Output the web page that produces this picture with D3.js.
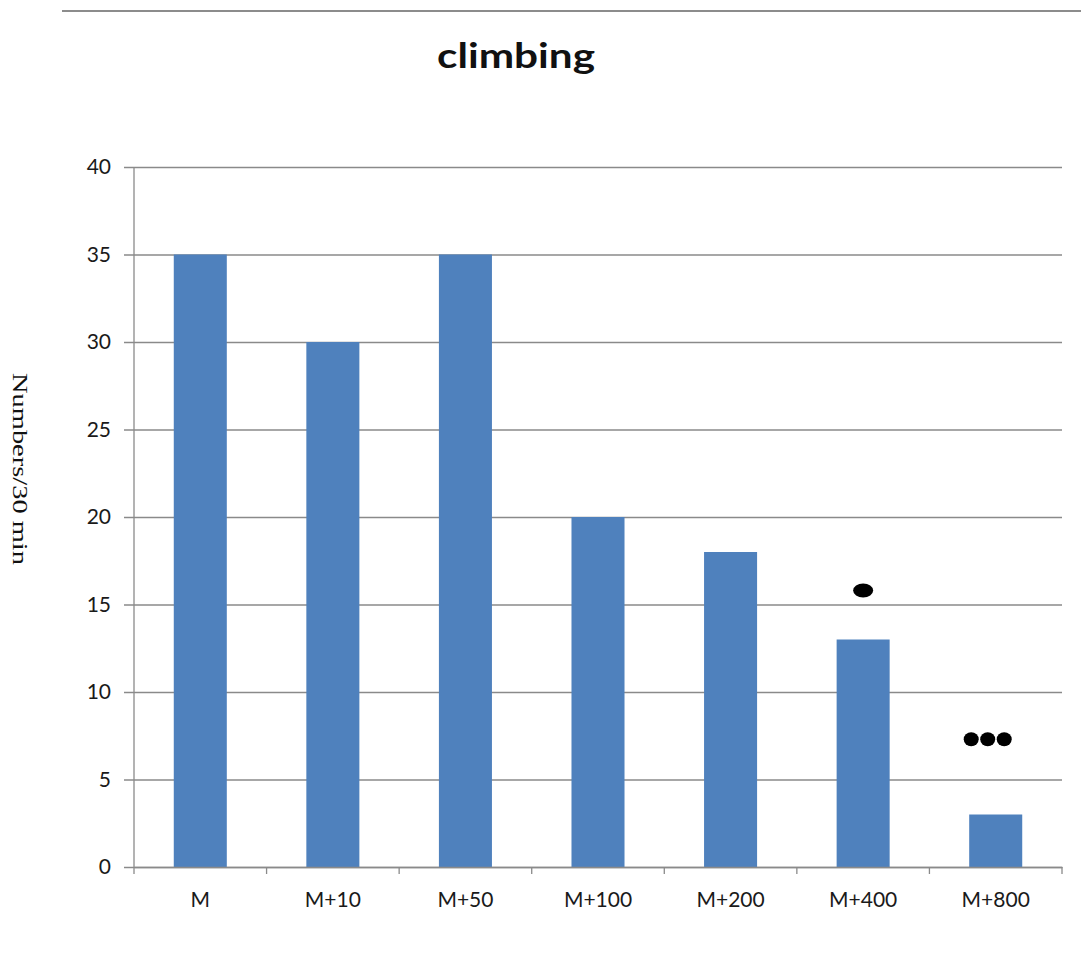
<!DOCTYPE html>
<html>
<head>
<meta charset="utf-8">
<script src="https://cdn.jsdelivr.net/npm/d3@7"></script>
<style>
  body { margin: 0; background: #fff; }
  svg { display: block; }
  .tick text { font-family: Lato, "Open Sans", sans-serif; font-size: 21px; fill: #1a1a1a; }
</style>
</head>
<body>
<svg id="chart" width="1081" height="953"></svg>
<script>
// --- Data ---------------------------------------
const categories = ["M", "M+10", "M+50", "M+100", "M+200", "M+400", "M+800"];
const counts = [35, 30, 35, 20, 18, 13, 3];
const yTicks = [0, 5, 10, 15, 20, 25, 30, 35, 40];

// significance marks: category, height (in data units), number of dots
const markCategories = ["M+400", "M+800"];
const markHeights = [15.8, 7.3];
const markDots = [1, 3];

// --- Layout ------------------
const margin = {top: 167, right: 19, bottom: 86, left: 134};
const svg = d3.select("#chart");
const W = +svg.attr("width"), H = +svg.attr("height");
const w = W - margin.left - margin.right;
const h = H - margin.top - margin.bottom;

const pOuter = 0.3;
const x = d3.scaleBand()
  .domain(categories)
  .range([0, w])
  .paddingInner(0.6)
  .paddingOuter(pOuter);

const y = d3.scaleLinear()
  .domain([0, 40])
  .range([h, 0]);

// rule at the very top
svg.append("line")
  .attr("x1", 62).attr("x2", W)
  .attr("y1", 11).attr("y2", 11)
  .attr("stroke", "#8c8c8c")
  .attr("stroke-width", 2);

// title (the picture is a bit stretched sideways, so fix the width)
svg.append("text")
  .attr("x", 437).attr("y", 68)
  .attr("textLength", 158)
  .attr("lengthAdjust", "spacingAndGlyphs")
  .style("font-family", "Lato, 'Open Sans', sans-serif")
  .style("font-weight", "bold")
  .style("font-size", "34px")
  .attr("fill", "#111")
  .text("climbing");

// y axis title (reads top to bottom)
svg.append("text")
  .attr("transform", "translate(13,373) rotate(90)")
  .attr("textLength", 192)
  .attr("lengthAdjust", "spacingAndGlyphs")
  .style("font-family", "'Liberation Serif', 'DejaVu Serif', serif")
  .style("font-size", "22px")
  .attr("fill", "#111")
  .text("Numbers/30 min");

const g = svg.append("g")
  .attr("transform", "translate(" + margin.left + "," + margin.top + ")");

// y axis + gridlines
const yAxis = g.append("g")
  .call(d3.axisLeft(y).tickValues(yTicks).tickSize(0).tickPadding(23));
yAxis.select(".domain").remove();
yAxis.selectAll(".tick line")
  .attr("x1", -10)
  .attr("x2", w)
  .attr("stroke", "#8a8a8a")
  .attr("stroke-width", 1.3);

// vertical axis line
g.append("line")
  .attr("x1", 0).attr("x2", 0)
  .attr("y1", 0).attr("y2", h)
  .attr("stroke", "#8a8a8a")
  .attr("stroke-width", 1.3);

// bars
g.selectAll("rect.bar")
  .data(categories.map((c, i) => ({cat: c, v: counts[i]})))
  .enter()
  .append("rect")
  .attr("class", "bar")
  .attr("x", d => x(d.cat))
  .attr("width", x.bandwidth())
  .attr("y", d => y(d.v))
  .attr("height", d => y(0) - y(d.v))
  .attr("fill", "#4f81bd");

// x axis: labels centred, ticks on category boundaries
const xAxis = g.append("g")
  .attr("transform", "translate(0," + h + ")")
  .call(d3.axisBottom(x).tickSize(0).tickPadding(25));
xAxis.select(".domain")
  .attr("stroke", "#8a8a8a")
  .attr("stroke-width", 1.3);

const bounds = categories.map(c => x(c) - x.step() * pOuter).concat([w]);
xAxis.selectAll("line.bound")
  .data(bounds)
  .enter()
  .append("line")
  .attr("class", "bound")
  .attr("x1", d => d).attr("x2", d => d)
  .attr("y1", 0).attr("y2", 7)
  .attr("stroke", "#8a8a8a")
  .attr("stroke-width", 1.3);

// significance dots (the triple mark sits a little left of the bar centre)
const marks = markCategories.map((c, i) => ({cat: c, v: markHeights[i], n: markDots[i]}));
marks.forEach(m => {
  const cx = x(m.cat) + x.bandwidth() / 2 - (m.n > 1 ? 8 : 0);
  const gap = 16.5;
  const rx = m.n === 1 ? 10 : 7.5;
  d3.range(m.n).forEach(k => {
    g.append("ellipse")
      .attr("cx", cx + (k - (m.n - 1) / 2) * gap)
      .attr("cy", y(m.v))
      .attr("rx", rx)
      .attr("ry", 7)
      .attr("fill", "#000");
  });
});
</script>
</body>
</html>
